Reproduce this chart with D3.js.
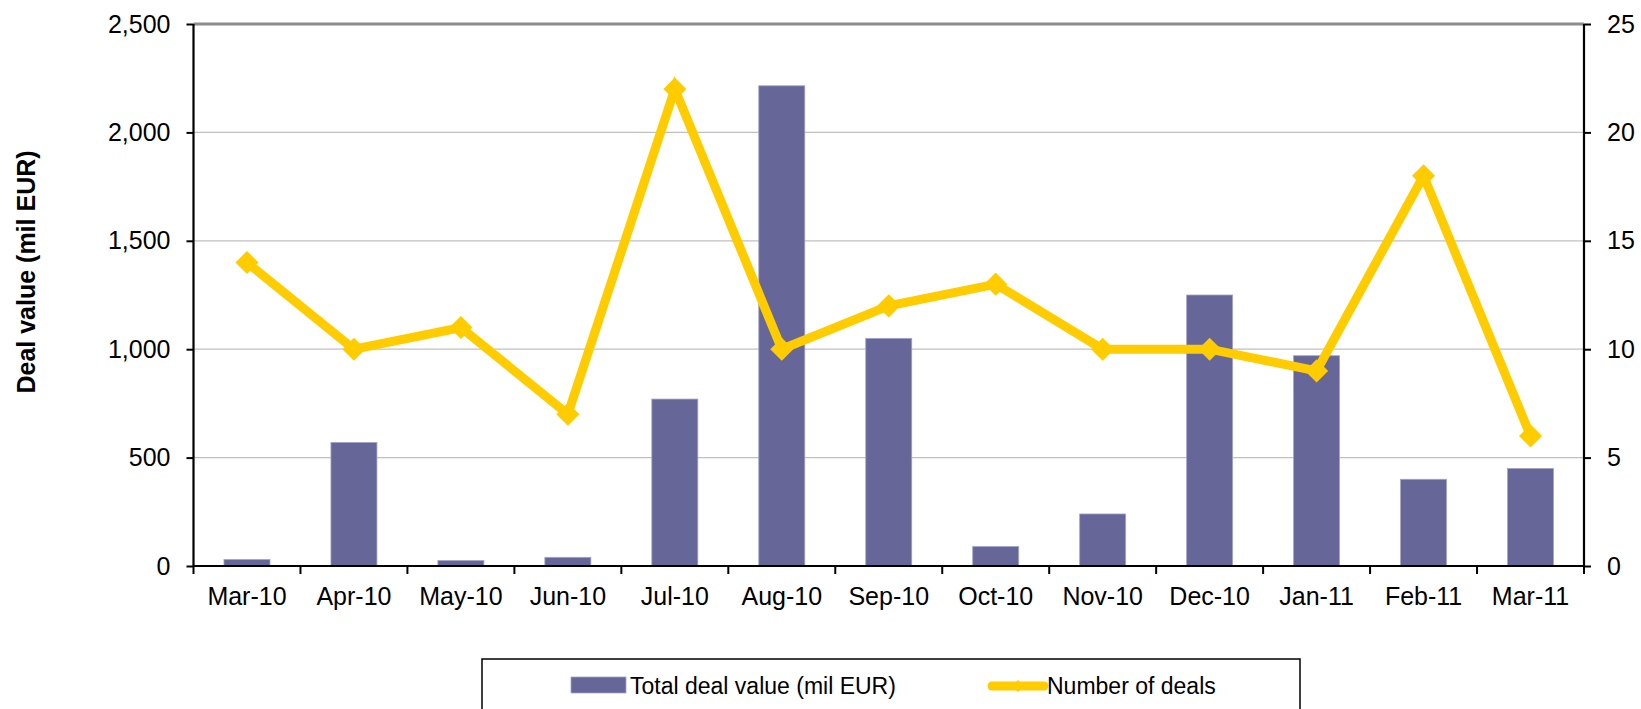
<!DOCTYPE html>
<html>
<head>
<meta charset="utf-8">
<script src="https://cdn.jsdelivr.net/npm/d3@7"></script>
<style>
  body { margin: 0; background: #fff; }
  svg { display: block; font-family: "Liberation Sans", Arial, sans-serif; }
</style>
</head>
<body>
<div id="chart"></div>
<script>
// data
var months = ["Mar-10","Apr-10","May-10","Jun-10","Jul-10","Aug-10","Sep-10","Oct-10","Nov-10","Dec-10","Jan-11","Feb-11","Mar-11"];
var dealValue = [30, 570, 25, 40, 770, 2215, 1050, 90, 240, 1250, 970, 400, 450];
var dealCount = [14, 10, 11, 7, 22, 10, 12, 13, 10, 10, 9, 18, 6];
var leftTicks = [0, 500, 1000, 1500, 2000, 2500];
var rightTicks = [0, 5, 10, 15, 20, 25];

var W = 1641, H = 709;
var margin = { top: 24, right: 57, bottom: 143, left: 193.5 };
var width = W - margin.left - margin.right,
    height = H - margin.top - margin.bottom;

var svg = d3.select("#chart").append("svg")
    .attr("width", W)
    .attr("height", H);

var g = svg.append("g")
    .attr("transform", "translate(" + margin.left + "," + margin.top + ")");

var x = d3.scaleBand()
    .domain(months)
    .range([0, width])
    .paddingInner(0.57)
    .paddingOuter(0.285);
var yL = d3.scaleLinear().domain([0, 2500]).range([height, 0]);
var yR = d3.scaleLinear().domain([0, 25]).range([height, 0]);

// gridlines
g.selectAll(".grid")
    .data(leftTicks.slice(1, -1))
    .enter().append("line")
    .attr("class", "grid")
    .attr("x1", 0).attr("x2", width)
    .attr("y1", d => yL(d)).attr("y2", d => yL(d))
    .attr("stroke", "#c0c0c0")
    .attr("stroke-width", 1.2);

// plot area top border
g.append("line")
    .attr("x1", 0).attr("x2", width)
    .attr("y1", 0).attr("y2", 0)
    .attr("stroke", "#8c8c8c")
    .attr("stroke-width", 3);

// bars
g.selectAll(".bar")
    .data(dealValue)
    .enter().append("rect")
    .attr("class", "bar")
    .attr("x", (d, i) => x(months[i]))
    .attr("width", x.bandwidth())
    .attr("y", d => yL(d))
    .attr("height", d => height - yL(d))
    .attr("fill", "#666699")
    .attr("stroke", "#a3a3c8")
    .attr("stroke-width", 0.8);

// axes
var fmt = d3.format(",");
var axL = g.append("g")
    .call(d3.axisLeft(yL).tickValues(leftTicks).tickFormat(fmt).tickSize(7).tickPadding(16));
var axR = g.append("g")
    .attr("transform", "translate(" + width + ",0)")
    .call(d3.axisRight(yR).tickValues(rightTicks).tickSize(7).tickPadding(16));
var axB = g.append("g")
    .attr("transform", "translate(0," + height + ")")
    .call(d3.axisBottom(x).tickSize(0).tickPadding(21));

// bottom ticks sit between categories
g.selectAll(".xtick")
    .data(d3.range(months.length + 1))
    .enter().append("line")
    .attr("class", "xtick")
    .attr("x1", i => i * x.step()).attr("x2", i => i * x.step())
    .attr("y1", height).attr("y2", height + 8)
    .attr("stroke", "#000").attr("stroke-width", 2);

[axL, axR, axB].forEach(function(a) {
    a.select(".domain").attr("stroke", "#000").attr("stroke-width", 2.2);
    a.selectAll(".tick line").attr("stroke", "#000").attr("stroke-width", 2);
    a.selectAll("text").attr("font-size", "25px").attr("fill", "#000")
        .attr("font-family", "'Liberation Sans', Arial, sans-serif");
});
axL.select(".domain").attr("d", "M0," + height + "V0");
axR.select(".domain").attr("d", "M0," + height + "V0");
axB.select(".domain").attr("d", "M0,0H" + width);

// line + markers
var cx = i => x(months[i]) + x.bandwidth() / 2;
var line = d3.line()
    .x((d, i) => cx(i))
    .y(d => yR(d));
g.append("path")
    .datum(dealCount)
    .attr("d", line)
    .attr("fill", "none")
    .attr("stroke", "#ffcc00")
    .attr("stroke-width", 9)
    .attr("stroke-linejoin", "miter");

var diamond = d3.symbol().type(d3.symbolDiamond2).size(340);
g.selectAll(".mk")
    .data(dealCount)
    .enter().append("path")
    .attr("class", "mk")
    .attr("d", diamond)
    .attr("transform", (d, i) => "translate(" + cx(i) + "," + yR(d) + ")")
    .attr("fill", "#ffcc00");

// y axis title
svg.append("text")
    .attr("transform", "translate(35,272) rotate(-90)")
    .attr("text-anchor", "middle")
    .attr("font-size", "25px")
    .attr("font-weight", "bold")
    .text("Deal value (mil EUR)");

// legend
var leg = svg.append("g");
leg.append("rect")
    .attr("x", 482).attr("y", 659)
    .attr("width", 818).attr("height", 80)
    .attr("fill", "#fff")
    .attr("stroke", "#000")
    .attr("stroke-width", 1.5);
leg.append("rect")
    .attr("x", 571).attr("y", 677)
    .attr("width", 55).attr("height", 16)
    .attr("fill", "#666699")
    .attr("stroke", "#a3a3c8").attr("stroke-width", 0.8);
leg.append("text")
    .attr("x", 630).attr("y", 694)
    .attr("font-size", "23px")
    .text("Total deal value (mil EUR)");
leg.append("line")
    .attr("x1", 992).attr("x2", 1044)
    .attr("y1", 686).attr("y2", 686)
    .attr("stroke", "#ffcc00").attr("stroke-width", 9)
    .attr("stroke-linecap", "round");
leg.append("path")
    .attr("d", d3.symbol().type(d3.symbolDiamond2).size(90))
    .attr("transform", "translate(1018,686)")
    .attr("fill", "#ffcc00");
leg.append("text")
    .attr("x", 1047).attr("y", 694)
    .attr("font-size", "23px")
    .text("Number of deals");
</script>
</body>
</html>
